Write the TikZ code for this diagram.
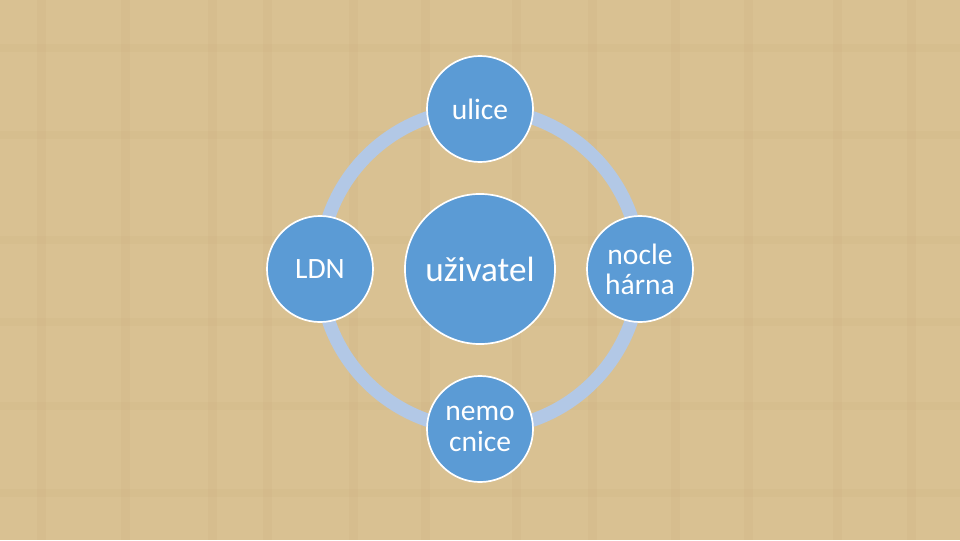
\documentclass[tikz,border=0pt]{standalone}
\usepackage{fontspec}
\setmainfont{Carlito}
\usetikzlibrary{positioning}

\definecolor{papyrus}{HTML}{D9C192}
\definecolor{papyrus_line}{HTML}{C7AC78}
\definecolor{modra}{HTML}{5B9BD5}
\definecolor{modra_svetla}{HTML}{B2C8E6}

\tikzset{
  bublina/.style={circle, fill=modra, draw=white, line width=1.2pt,
    minimum size=2.65cm, inner sep=0pt, text=white, align=center,
    font=\fontsize{21}{21.5}\selectfont},
  stred/.style={bublina, minimum size=3.75cm,
    font=\fontsize{25}{28}\selectfont}
}

\begin{document}
\begin{tikzpicture}[x=0.025cm, y=-0.025cm]

  % papyrus background
  \fill[papyrus] (0,0) rectangle (960,540);
  \foreach \x in {37,121,208,263,349,421,512,588,671,744,833,907}
    \fill[papyrus_line, opacity=0.15] (\x,0) rectangle ++(9,540);
  \foreach \y in {44,131,236,318,402,489}
    \fill[papyrus_line, opacity=0.12] (0,\y) rectangle ++(960,8);
  \useasboundingbox (0,0) rectangle (960,540);

  % the ring
  \coordinate (kruh) at (480,269);
  \draw[modra_svetla, line width=9.5pt] (kruh) circle[radius=160];

  % user in the middle and the four places around
  \node[stred] (uzivatel) at (kruh) {uživatel};
  \node[bublina] (ulice) at (480,109) {ulice};
  \node[bublina] (ldn) at (320,269) {LDN};
  \node[bublina] (noclehar) at (640,269) {nocle\\hárna};
  \node[bublina] (nemocnice) at (480,429) {nemo\\cnice};

\end{tikzpicture}
\end{document}
